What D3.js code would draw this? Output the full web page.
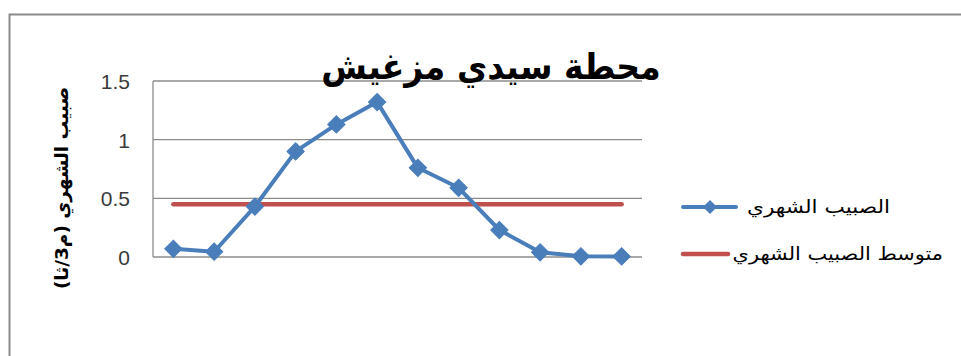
<!DOCTYPE html>
<html><head><meta charset="utf-8">
<script src="https://cdn.jsdelivr.net/npm/d3@7"></script>
<style>
html,body{margin:0;padding:0;background:#fff;}
svg{display:block;}
</style></head>
<body>
<svg id="c" width="961" height="356"></svg>
<script>
const months = ["1","2","3","4","5","6","7","8","9","10","11","12"];
const monthlyFlow = [0.07, 0.045, 0.43, 0.90, 1.13, 1.32, 0.76, 0.59, 0.23, 0.04, 0.006, 0.005];
const meanFlow = [0.45, 0.45, 0.45, 0.45, 0.45, 0.45, 0.45, 0.45, 0.45, 0.45, 0.45, 0.45];
const yTicks = [0, 0.5, 1, 1.5];
const titleText = "محطة سيدي مزغيش";
const yTitle = "صبيب الشهري (م3/ثا)";
const legendLabels = ["الصبيب الشهري", "متوسط الصبيب الشهري"];

const svg = d3.select("#c");
// outer frame
svg.append("path").attr("d","M9.5,356 L9.5,14.5 L961,14.5")
  .attr("fill","none").attr("stroke","#8a8a8a").attr("stroke-width",2);

const L=153, R=642, T=81, B=257;
const x = d3.scaleBand().domain(months).range([L,R]);
const y = d3.scaleLinear().domain([0,1.5]).range([B,T]);

// gridlines
svg.append("g").selectAll("line").data(yTicks).join("line")
  .attr("x1",L).attr("x2",R).attr("y1",d=>y(d)).attr("y2",d=>y(d))
  .attr("stroke","#8c8c8c").attr("stroke-width",1.3);
// y axis line
svg.append("line").attr("x1",L).attr("x2",L).attr("y1",T).attr("y2",B)
  .attr("stroke","#8c8c8c").attr("stroke-width",1.3);

// tick labels
const yAxis = d3.axisLeft(y).tickValues(yTicks).tickFormat(d3.format("")).tickSize(0).tickPadding(23);
const ga = svg.append("g").attr("transform",`translate(${L},0)`).call(yAxis);
ga.select(".domain").remove();
ga.selectAll("text").attr("font-family","'Liberation Sans',sans-serif")
  .attr("font-size",21).attr("fill","#3a3a3a").attr("dy","0.36em");

// title
svg.append("text").attr("transform","translate(491,79) scale(0.92,1)").attr("text-anchor","middle")
  .attr("font-family","'DejaVu Sans',sans-serif").attr("font-weight","bold")
  .attr("font-size",36).attr("fill","#000").attr("direction","rtl")
  .text(titleText);

// y title
svg.append("text").attr("transform","translate(68,188) rotate(-90)").attr("text-anchor","middle")
  .attr("font-family","'DejaVu Sans',sans-serif").attr("font-weight","bold")
  .attr("font-size",18.5).attr("fill","#000").attr("direction","rtl")
  .text(yTitle);

const cx = d => x(d) + x.bandwidth()/2;

// mean line
svg.append("path").datum(meanFlow.map((v,i)=>[months[i],v]))
  .attr("d", d3.line().x(d=>cx(d[0])).y(d=>y(d[1])))
  .attr("fill","none").attr("stroke","#c0504d").attr("stroke-width",4.5).attr("stroke-linecap","round");

// flow line
const data = monthlyFlow.map((v,i)=>[months[i],v]);
svg.append("path").datum(data)
  .attr("d", d3.line().x(d=>cx(d[0])).y(d=>y(d[1])))
  .attr("fill","none").attr("stroke","#4a7ebb").attr("stroke-width",4).attr("stroke-linejoin","round");
svg.append("g").selectAll("path").data(data).join("path")
  .attr("transform",d=>`translate(${cx(d[0])},${y(d[1])}) rotate(45)`)
  .attr("d", d3.symbol().type(d3.symbolSquare).size(150))
  .attr("fill","#4a7ebb").attr("stroke","#4a7ebb").attr("stroke-width",1);

// legend
const lg = svg.append("g");
lg.append("line").attr("x1",683).attr("x2",736).attr("y1",207).attr("y2",207)
  .attr("stroke","#4a7ebb").attr("stroke-width",4).attr("stroke-linecap","round");
lg.append("path").attr("transform","translate(710,207) rotate(45)")
  .attr("d", d3.symbol().type(d3.symbolSquare).size(100)).attr("fill","#4a7ebb");
lg.append("line").attr("x1",683).attr("x2",728).attr("y1",254).attr("y2",254)
  .attr("stroke","#c0504d").attr("stroke-width",4.5).attr("stroke-linecap","round");
lg.append("text").attr("transform","translate(890,213) scale(1.2,1)")
  .attr("font-family","'DejaVu Sans',sans-serif").attr("font-size",18).attr("fill","#000")
  .attr("direction","rtl").attr("text-anchor","start")
  .text(legendLabels[0]);
lg.append("text").attr("transform","translate(943,260) scale(1.16,1)")
  .attr("font-family","'DejaVu Sans',sans-serif").attr("font-size",18).attr("fill","#000")
  .attr("direction","rtl").attr("text-anchor","start")
  .text(legendLabels[1]);
</script>
</body></html>
